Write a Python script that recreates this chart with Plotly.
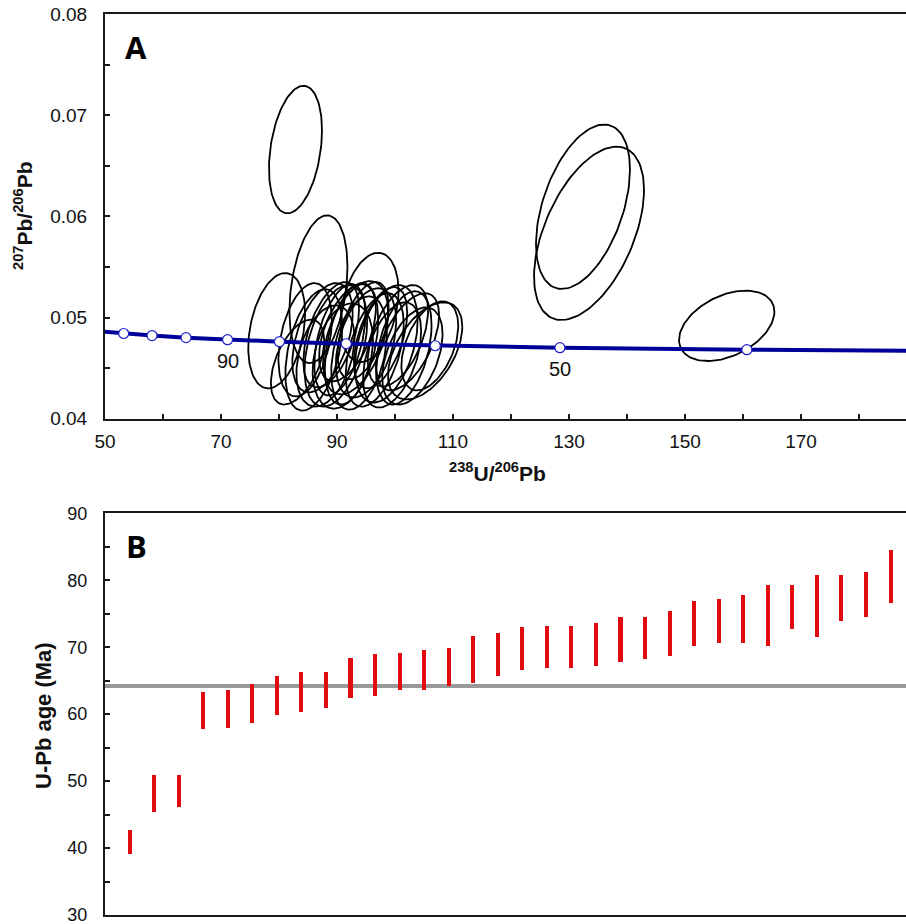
import numpy as np
import plotly.graph_objects as go

# ---------------- Panel A data ----------------
# Concordia curve (age in Ma, 238U/206Pb, 207Pb/206Pb)
conc_age = [130, 120, 110, 100, 90, 80, 70, 60, 50, 40, 35, 33]
conc_x = [49.09, 53.22, 58.11, 63.97, 71.13, 80.08, 91.59, 106.94, 128.43, 160.66, 183.68, 194.85]
conc_y = [0.04863, 0.04842, 0.04822, 0.04801, 0.04781, 0.04761, 0.04741, 0.04721, 0.04702, 0.04682, 0.04672, 0.04668]
marker_ages = [120, 110, 100, 90, 80, 70, 60, 50, 40]
labelled_ages = [90, 50]

# Error ellipses: centre, half-extent in x and y, correlation
ell_x = [82.84, 86.8, 132.41, 133.45, 157.19,
         79.6, 83.2, 84.5, 86.0, 87.5, 88.0, 89.0, 89.8, 90.5, 91.0, 91.8, 92.5, 93.2, 93.8,
         94.5, 95.0, 95.6, 96.5, 97.5, 98.5, 99.5, 100.5, 101.5, 102.2, 103.0, 105.2, 106.0]
ell_y = [0.0666, 0.0528, 0.06095, 0.05832, 0.04918,
         0.0487, 0.0456, 0.0478, 0.0468, 0.0480, 0.0462, 0.0483, 0.0472, 0.0478, 0.0462, 0.0485, 0.0474, 0.0480, 0.0465,
         0.0487, 0.0475, 0.0510, 0.0468, 0.0480, 0.0474, 0.0463, 0.0482, 0.0470, 0.0476, 0.0462, 0.0467, 0.0472]
ell_sx = [4.57, 5.0, 8.10, 9.48, 8.22,
          4.9, 4.6, 4.6, 4.9, 5.2, 5.0, 4.8, 5.4, 4.4, 5.2, 4.9, 4.6, 5.6, 4.8,
          4.4, 5.2, 5.0, 5.0, 4.6, 5.4, 5.0, 5.2, 4.8, 5.4, 5.2, 6.4, 4.9]
ell_sy = [0.0063, 0.0073, 0.00813, 0.00857, 0.00348,
          0.0057, 0.0042, 0.0056, 0.0060, 0.0054, 0.0050, 0.0052, 0.0060, 0.0055, 0.0052, 0.0048, 0.0060, 0.0056, 0.0056,
          0.0048, 0.0054, 0.0054, 0.0056, 0.0050, 0.0058, 0.0052, 0.0050, 0.0056, 0.0048, 0.0048, 0.0048, 0.0044]
ell_rho = [0.30, 0.30, 0.45, 0.50, 0.40,
           0.30, 0.50, 0.35, 0.40, 0.45, 0.35, 0.50, 0.40, 0.45, 0.30, 0.50, 0.40, 0.45, 0.35,
           0.50, 0.40, 0.30, 0.45, 0.50, 0.40, 0.45, 0.50, 0.40, 0.55, 0.45, 0.50, 0.45]

# ---------------- Panel B data ----------------
age_lo = [39.1, 45.3, 46.1, 57.8, 57.9, 58.6, 59.9, 60.3, 60.8, 62.3, 62.6, 63.5, 63.5, 64.1,
          64.6, 65.7, 66.6, 66.9, 66.9, 67.2, 67.7, 68.2, 68.7, 70.2, 70.6, 70.6, 70.2, 72.6,
          71.5, 73.8, 74.5, 76.6]
age_hi = [42.6, 50.8, 50.9, 63.2, 63.5, 64.4, 65.7, 66.2, 66.3, 68.3, 68.9, 69.1, 69.5, 69.9,
          71.7, 72.1, 72.9, 73.1, 73.1, 73.5, 74.4, 74.4, 75.3, 76.9, 77.1, 77.7, 79.2, 79.3,
          80.8, 80.8, 81.2, 84.4]
mean_age = 64.2

W, H = 906, 924
FONT = "Liberation Sans, Arial, sans-serif"
AXC = "#1a1a1a"

fig = go.Figure()

# ellipses
ex, ey = [], []
t = np.linspace(0, 2 * np.pi, 120)
for cx, cy, sx, sy, r in zip(ell_x, ell_y, ell_sx, ell_sy, ell_rho):
    a = np.arccos(r)
    ex += list(cx + sx * np.cos(t)) + [None]
    ey += list(cy + sy * np.cos(t - a)) + [None]
fig.add_trace(go.Scatter(x=ex, y=ey, mode="lines", line=dict(color="black", width=1.8),
                         hoverinfo="skip", xaxis="x", yaxis="y", showlegend=False))

# concordia
fig.add_trace(go.Scatter(x=conc_x, y=conc_y, mode="lines", line=dict(color="#00009a", width=4),
                         xaxis="x", yaxis="y", showlegend=False, hoverinfo="skip"))
mx = [x for a, x in zip(conc_age, conc_x) if a in marker_ages]
my = [y for a, y in zip(conc_age, conc_y) if a in marker_ages]
fig.add_trace(go.Scatter(x=mx, y=my, mode="markers",
                         marker=dict(size=10, color="white", line=dict(color="#2020c8", width=1.2)),
                         xaxis="x", yaxis="y", showlegend=False))

# Panel B bars
idx = list(range(1, len(age_lo) + 1))
fig.add_trace(go.Bar(x=idx, y=[h - l for h, l in zip(age_hi, age_lo)], base=age_lo, width=0.165,
                     marker=dict(color="#e00a0f", line=dict(width=0)),
                     xaxis="x2", yaxis="y2", showlegend=False))

def px2fx(px):
    return px / W

def py2fy(py):
    return (H - py) / H

a_top, a_bot = 14, 418.7
b_top, b_bot = 513.3, 915

common = dict(showline=True, linecolor=AXC, linewidth=2, ticks="inside", ticklen=5,
              tickwidth=1.5, tickcolor=AXC, showgrid=False, zeroline=False, automargin=False,
              ticklabeloverflow="allow",
              tickfont=dict(family=FONT, size=19, color="#111"))
minor_style = dict(ticks="inside", ticklen=5, tickwidth=1.5, tickcolor=AXC, showgrid=False)

fig.update_layout(
    template="none",
    width=W, height=H, margin=dict(l=0, r=0, t=0, b=0, pad=0),
    paper_bgcolor="white", plot_bgcolor="white", showlegend=False, bargap=0,
    xaxis=dict(domain=[px2fx(105), 1.0], range=[50, 188.1], anchor="y", mirror=True,
               tick0=50, dtick=20, minor=dict(tick0=50, dtick=10, **minor_style),
               ticklabelstandoff=4, **common),
    yaxis=dict(domain=[py2fy(a_bot), py2fy(a_top)], range=[0.04, 0.08], anchor="x",
               tick0=0.04, dtick=0.01, tickformat=".2f",
               minor=dict(tick0=0.04, dtick=0.005, **minor_style),
               ticklabelstandoff=12, **common),
    xaxis2=dict(domain=[px2fx(105), 1.0], range=[0, 32.63], anchor="y2", mirror=True,
                showline=True, linecolor=AXC, linewidth=2, ticks="", showticklabels=False,
                showgrid=False, zeroline=False, automargin=False),
    yaxis2=dict(domain=[py2fy(b_bot), py2fy(b_top)], range=[30, 90], anchor="x2",
                tick0=30, dtick=10, minor=dict(tick0=30, dtick=5, **minor_style),
                ticklabelstandoff=12, **{**common, "tickfont": dict(family=FONT, size=18, color="#111")}),
)

# mean age line
fig.add_shape(type="line", xref="x2 domain", yref="y2", x0=0, x1=1, y0=mean_age, y1=mean_age,
              line=dict(color="#999999", width=4), layer="below")

ann = []
ann.append(dict(text="<b><sup>207</sup>Pb/<sup>206</sup>Pb</b>", textangle=-90, x=px2fx(23), y=py2fy(216),
                xref="paper", yref="paper", showarrow=False, xanchor="center", yanchor="middle",
                font=dict(family=FONT, size=21, color="#111")))
ann.append(dict(text="<b><sup>238</sup>U/<sup>206</sup>Pb</b>", x=px2fx(497), y=py2fy(472),
                xref="paper", yref="paper", showarrow=False, xanchor="center", yanchor="middle",
                font=dict(family=FONT, size=21, color="#111")))
ann.append(dict(text="<b>U-Pb age (Ma)</b>", textangle=-90, x=px2fx(43), y=py2fy(716),
                xref="paper", yref="paper", showarrow=False, xanchor="center", yanchor="middle",
                font=dict(family=FONT, size=22, color="#111")))
ann.append(dict(text="<b>A</b>", x=px2fx(123), y=py2fy(47), xref="paper", yref="paper",
                showarrow=False, xanchor="left", yanchor="middle",
                font=dict(family="Open Sans, sans-serif", size=31, color="black")))
ann.append(dict(text="<b>B</b>", x=px2fx(124), y=py2fy(546), xref="paper", yref="paper",
                showarrow=False, xanchor="left", yanchor="middle",
                font=dict(family="Open Sans, sans-serif", size=31, color="black")))
for a, x, y in zip(conc_age, conc_x, conc_y):
    if a in labelled_ages:
        ann.append(dict(text=str(a), x=x, y=y, xref="x", yref="y", showarrow=False,
                        xanchor="center", yanchor="top", yshift=-8,
                        font=dict(family=FONT, size=20, color="#111")))
fig.update_layout(annotations=ann)

fig.write_html("out.html", config={"displayModeBar": False},
               post_script="document.body.style.margin='0';")
